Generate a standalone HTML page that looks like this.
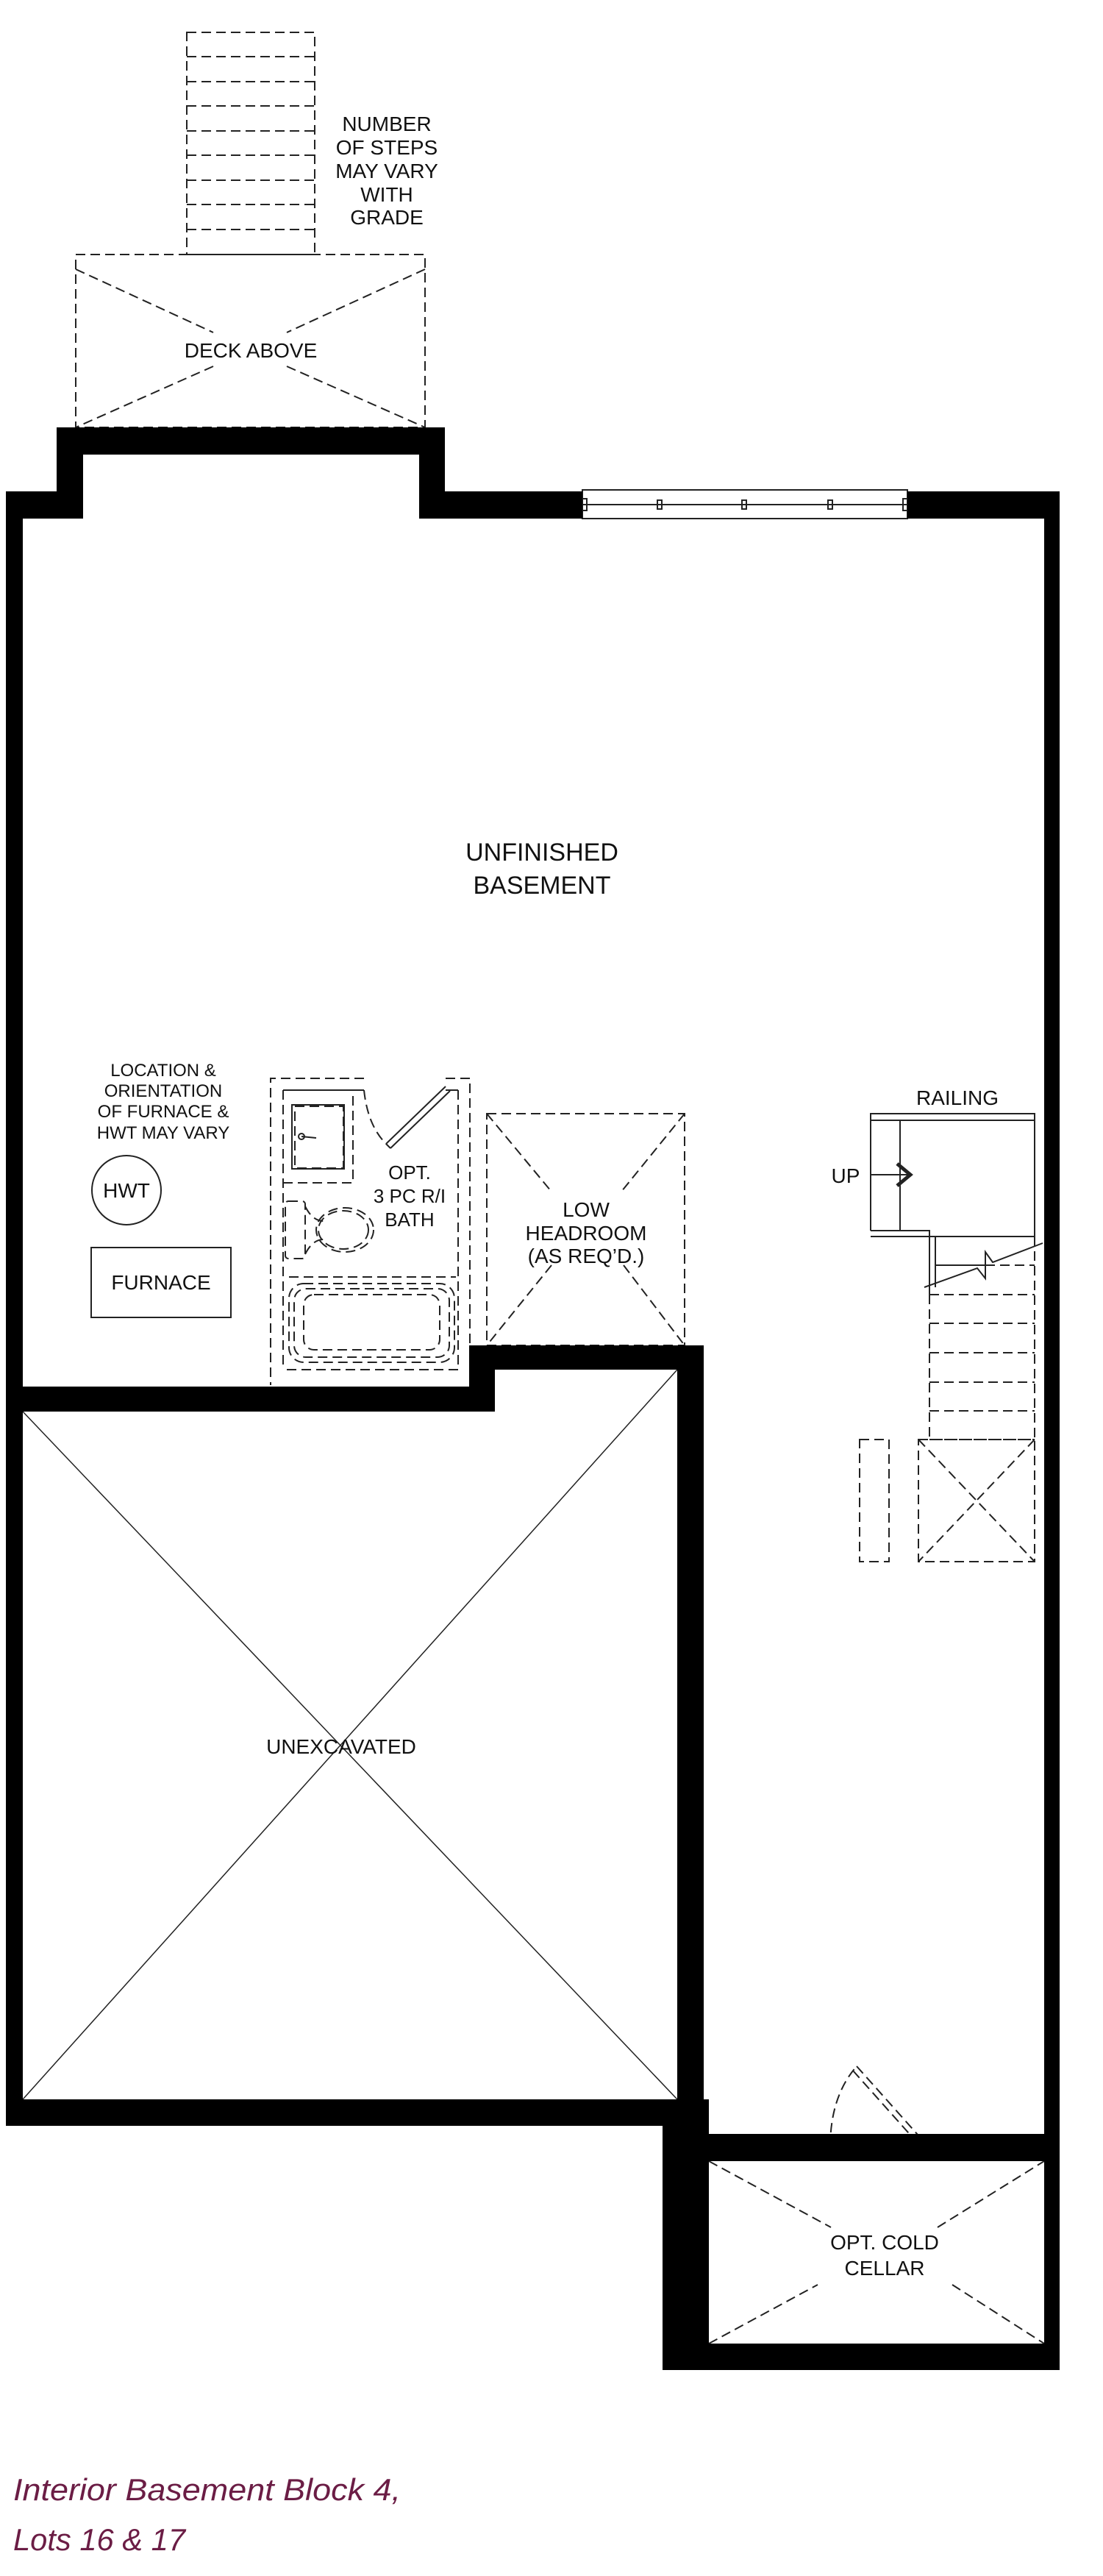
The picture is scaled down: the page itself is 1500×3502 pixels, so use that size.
<!DOCTYPE html>
<html><head><meta charset="utf-8"><style>
html,body{margin:0;padding:0;background:#fff;}
svg{display:block;}
text{font-family:"Liberation Sans",sans-serif;fill:#111;}
</style></head><body>
<svg width="1500" height="3502" viewBox="0 0 1500 3502" xmlns="http://www.w3.org/2000/svg">
<rect width="1500" height="3502" fill="#fff"/>
<g fill="none" stroke="#222" stroke-width="2" stroke-dasharray="13 7">
  <rect x="254" y="44" width="174" height="302"/>
  <line x1="254" y1="77" x2="428" y2="77"/><line x1="254" y1="111" x2="428" y2="111"/>
  <line x1="254" y1="144" x2="428" y2="144"/><line x1="254" y1="178" x2="428" y2="178"/>
  <line x1="254" y1="211" x2="428" y2="211"/><line x1="254" y1="245" x2="428" y2="245"/>
  <line x1="254" y1="278" x2="428" y2="278"/><line x1="254" y1="312" x2="428" y2="312"/>
  <rect x="103" y="346" width="475" height="235"/>
  <line x1="103" y1="366" x2="290" y2="452"/><line x1="390" y1="498" x2="578" y2="581"/>
  <line x1="578" y1="366" x2="390" y2="452"/><line x1="290" y1="498" x2="103" y2="581"/>
  <rect x="662" y="1514" width="269" height="315"/>
  <line x1="662" y1="1514" x2="750" y2="1620"/><line x1="848" y1="1720" x2="931" y2="1829"/>
  <line x1="931" y1="1514" x2="845" y2="1620"/><line x1="750" y1="1720" x2="662" y2="1829"/>
  <line x1="1407" y1="1681" x2="1407" y2="1957"/>
  <line x1="1340" y1="1720" x2="1407" y2="1720"/>
  <line x1="1264" y1="1760" x2="1407" y2="1760"/><line x1="1264" y1="1799" x2="1407" y2="1799"/>
  <line x1="1264" y1="1839" x2="1407" y2="1839"/><line x1="1264" y1="1879" x2="1407" y2="1879"/>
  <line x1="1264" y1="1918" x2="1407" y2="1918"/><line x1="1264" y1="1957" x2="1407" y2="1957"/>
  <line x1="1264" y1="1760" x2="1264" y2="1957"/>
  <rect x="1169" y="1957" width="40" height="166"/>
  <rect x="1249" y="1957" width="158" height="166"/>
  <line x1="1249" y1="1957" x2="1407" y2="2123"/><line x1="1407" y1="1957" x2="1249" y2="2123"/>
  <line x1="964" y1="2938" x2="1130" y2="3028"/><line x1="1275" y1="3028" x2="1420" y2="2938"/>
  <line x1="964" y1="3186" x2="1112" y2="3106"/><line x1="1295" y1="3106" x2="1420" y2="3186"/>
  <path d="M1129 2919 Q1129 2850 1165 2809"/>
  <line x1="1165" y1="2809" x2="1248" y2="2902"/><line x1="1160" y1="2815" x2="1243" y2="2908"/>
  <polyline points="495,1466 368,1466 368,1883"/>
  <polyline points="606,1466 639,1466 639,1829"/>
  <line x1="385" y1="1482" x2="385" y2="1862"/>
  <polyline points="623,1482 623,1862 385,1862"/>
  <polyline points="385,1608 480,1608 480,1482"/>
  <line x1="393" y1="1736" x2="620" y2="1736"/>
  <rect x="393" y="1745" width="225" height="107" rx="20"/>
  <rect x="400" y="1752" width="211" height="93" rx="16"/>
  <rect x="413" y="1760" width="185" height="75" rx="14"/>
  <rect x="401" y="1504" width="66" height="84"/>
  <path d="M495 1482 Q500 1530 525 1555"/>
  <ellipse cx="467" cy="1672" rx="34" ry="26"/>
  <ellipse cx="469" cy="1672" rx="39" ry="30"/>
  <rect x="388" y="1633" width="27" height="78" rx="4"/>
  <path d="M415 1640 Q425 1660 440 1660 M415 1705 Q425 1685 440 1685"/>
</g>
<g fill="none" stroke="#222" stroke-width="2">
  <rect x="397" y="1502" width="71" height="87"/>
  <polyline points="385,1482 495,1482"/>
  <polyline points="606,1482 623,1482"/>
  <line x1="525" y1="1555" x2="606" y2="1477"/><line x1="531" y1="1561" x2="612" y2="1483"/>
  <line x1="525" y1="1555" x2="531" y2="1561"/>
  <circle cx="410" cy="1545" r="4"/><line x1="410" y1="1545" x2="430" y2="1547"/>
  <rect x="792" y="666" width="442" height="39" fill="#fff"/>
  <line x1="792" y1="686" x2="1234" y2="686"/>
  <rect x="792" y="678" width="6" height="16"/><rect x="894" y="680" width="6" height="12"/>
  <rect x="1009" y="680" width="6" height="12"/><rect x="1126" y="680" width="6" height="12"/>
  <rect x="1228" y="678" width="6" height="16"/>
  <rect x="124" y="1696" width="190" height="95"/>
  <circle cx="172" cy="1618" r="47"/>
  <polyline points="1184,1673 1184,1514 1407,1514 1407,1681 1272,1681"/>
  <line x1="1184" y1="1523" x2="1407" y2="1523"/>
  <line x1="1224" y1="1523" x2="1224" y2="1673"/>
  <polyline points="1184,1673 1264,1673 1264,1760"/>
  <polyline points="1184,1681 1272,1681 1272,1750"/>
  <line x1="1272" y1="1720" x2="1340" y2="1720"/>
  <polyline points="1257,1750 1329,1724 1340,1738 1340,1702 1350,1716 1418,1690"/>
  <line x1="1184" y1="1597" x2="1236" y2="1597"/>
  <polyline points="1220,1582 1238,1597 1220,1612" stroke-width="5"/>
  <line x1="31" y1="1919" x2="921" y2="2854" stroke-width="1.5"/>
  <line x1="921" y1="1862" x2="31" y2="2854" stroke-width="1.5"/>
</g>
<g fill="#000">
  <rect x="8" y="668" width="105" height="37"/>
  <rect x="77" y="581" width="36" height="124"/>
  <rect x="77" y="581" width="528" height="37"/>
  <rect x="570" y="581" width="35" height="124"/>
  <rect x="570" y="668" width="222" height="37"/>
  <rect x="1234" y="668" width="207" height="37"/>
  <rect x="8" y="668" width="23" height="2222"/>
  <rect x="1420" y="668" width="21" height="2554"/>
  <rect x="8" y="1885" width="665" height="34"/>
  <rect x="638" y="1829" width="35" height="90"/>
  <rect x="638" y="1829" width="319" height="33"/>
  <rect x="921" y="1829" width="36" height="1061"/>
  <rect x="8" y="2854" width="949" height="36"/>
  <rect x="901" y="2854" width="63" height="368"/>
  <rect x="953" y="2901" width="488" height="37"/>
  <rect x="901" y="3186" width="540" height="36"/>
</g>
<g font-size="28" text-anchor="middle">
  <text x="526" y="178">NUMBER</text>
  <text x="526" y="210">OF STEPS</text>
  <text x="526" y="242">MAY VARY</text>
  <text x="526" y="274">WITH</text>
  <text x="526" y="305">GRADE</text>
  <text x="341" y="486">DECK ABOVE</text>
  <text x="737" y="1170" font-size="34">UNFINISHED</text>
  <text x="737" y="1215" font-size="34">BASEMENT</text>
  <text x="222" y="1463" font-size="24">LOCATION &amp;</text>
  <text x="222" y="1491" font-size="24">ORIENTATION</text>
  <text x="222" y="1519" font-size="24">OF FURNACE &amp;</text>
  <text x="222" y="1548" font-size="24">HWT MAY VARY</text>
  <text x="172" y="1628">HWT</text>
  <text x="219" y="1753">FURNACE</text>
  <text x="557" y="1603" font-size="26">OPT.</text>
  <text x="557" y="1635" font-size="26">3 PC R/I</text>
  <text x="557" y="1667" font-size="26">BATH</text>
  <text x="797" y="1654">LOW</text>
  <text x="797" y="1686">HEADROOM</text>
  <text x="797" y="1717">(AS REQ’D.)</text>
  <text x="1302" y="1502">RAILING</text>
  <text x="1150" y="1608">UP</text>
  <text x="464" y="2384">UNEXCAVATED</text>
  <text x="1203" y="3058">OPT. COLD</text>
  <text x="1203" y="3093">CELLAR</text>
</g>
<g font-size="42" font-style="italic">
  <text x="18" y="3399" textLength="527" lengthAdjust="spacingAndGlyphs" style="fill:#6b1d45">Interior Basement Block 4,</text>
  <text x="18" y="3467" textLength="234" lengthAdjust="spacingAndGlyphs" style="fill:#6b1d45">Lots 16 &amp; 17</text>
</g>
</svg>
</body></html>
